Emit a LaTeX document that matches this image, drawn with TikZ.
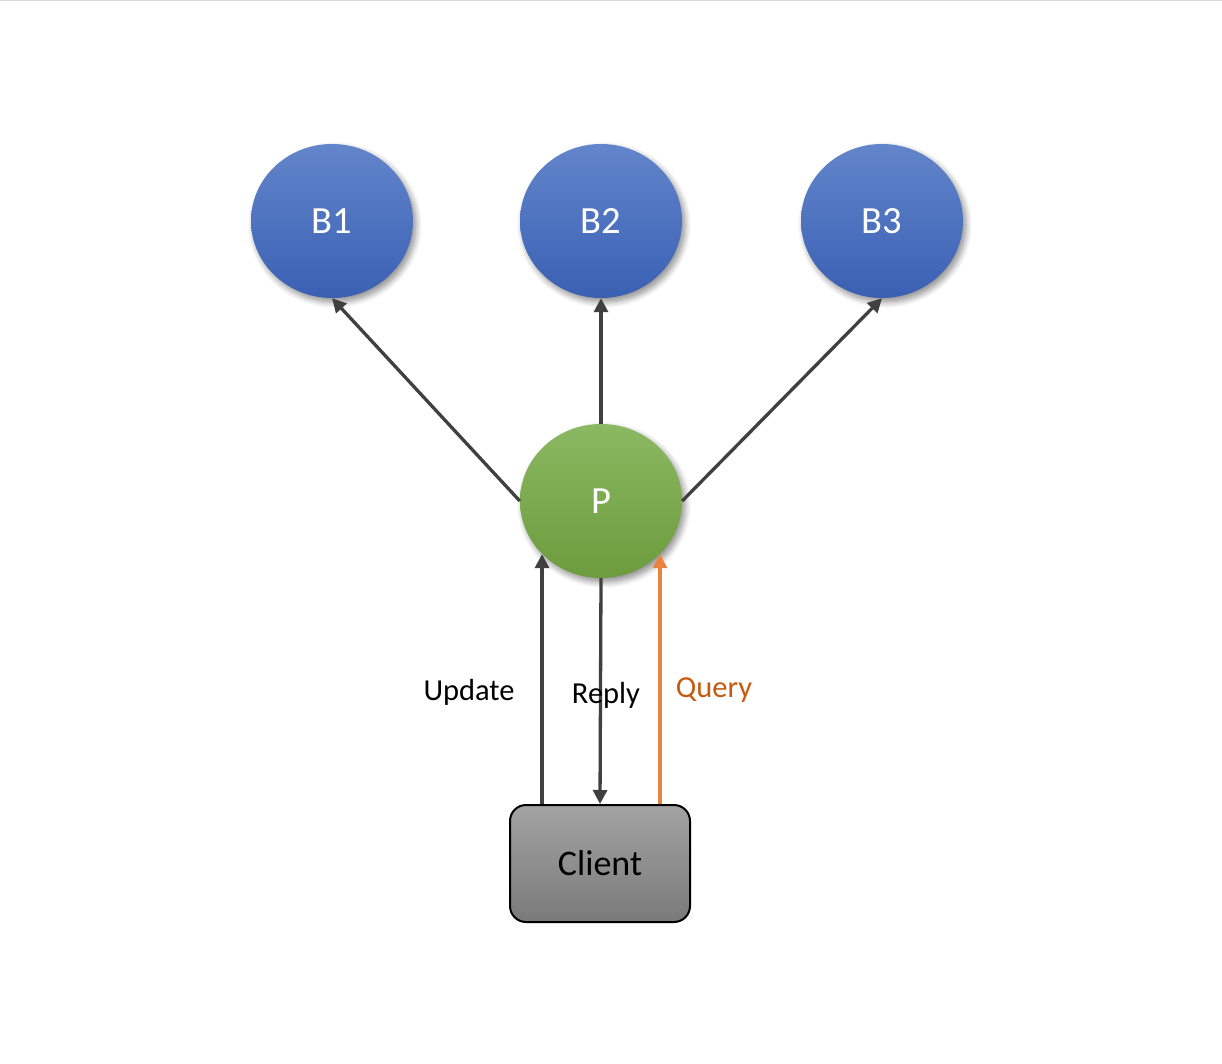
\documentclass[tikz,border=0pt]{standalone}
\usepackage{fontspec}
\setmainfont{Carlito}
\usetikzlibrary{shapes.geometric,arrows.meta,shadows.blur}
\definecolor{arrgray}{HTML}{404040}
\definecolor{qorange}{HTML}{E8823F}
\definecolor{qtext}{HTML}{C55A11}
\definecolor{btop}{HTML}{6285CB}
\definecolor{bbot}{HTML}{3A60B3}
\definecolor{gtop}{HTML}{8BB862}
\definecolor{gbot}{HTML}{6C9C3D}
\tikzset{
  bnode/.style={ellipse, minimum width=162pt, minimum height=154pt, inner sep=0pt,
    top color=btop, bottom color=bbot, text=white, font=\fontsize{38.5}{42}\selectfont,
    blur shadow={shadow xshift=3pt, shadow yshift=-4pt, shadow blur steps=8, shadow blur radius=6pt, shadow opacity=45}},
  pnode/.style={bnode, top color=gtop, bottom color=gbot},
  cnode/.style={rectangle, rounded corners=16pt, minimum width=180pt, minimum height=117pt,
    draw=black, line width=2pt,
    font=\fontsize{36}{40}\selectfont},
  arr/.style={draw=arrgray, line width=3.3pt, -{Triangle[length=14pt,width=14pt]}},
  qarr/.style={arr, draw=qorange, -{Triangle[length=14pt,width=14pt,fill=qorange]}},
  lbl/.style={font=\fontsize{30.5}{34}\selectfont, inner sep=0pt}
}
\begin{document}
\begin{tikzpicture}[x=1pt,y=-1pt]
\useasboundingbox (0,0) rectangle (1222,1064);
\draw[gray!30, line width=2pt] (0,0.5) -- (1222,0.5);
\node[bnode] (B1) at (332,221) {B1};
\node[bnode] (B2) at (601,221) {B2};
\node[bnode] (B3) at (882,221) {B3};
\node[pnode] (P) at (601,501) {P};
\node[cnode, top color={rgb,255:red,163;green,163;blue,163}, bottom color={rgb,255:red,122;green,122;blue,122}] (C) at (600,863.5) {Client};
\draw[arr] (P.west) -- (B1.south);
\draw[arr] (P.north) -- (B2.south);
\draw[arr] (P.east) -- (B3.south);
\draw[arr] (C.north -| P.222) -- (P.222);
\draw[arr] (P.south) -- (C.north);
\draw[qarr] (C.north -| P.318) -- (P.318);
\node[lbl] (lu) at (469,692) {Update};
\node[lbl] (lr) at (606,695) {Reply};
\node[lbl, text=qtext] (lq) at (714,690) {Query};
\end{tikzpicture}
\end{document}
